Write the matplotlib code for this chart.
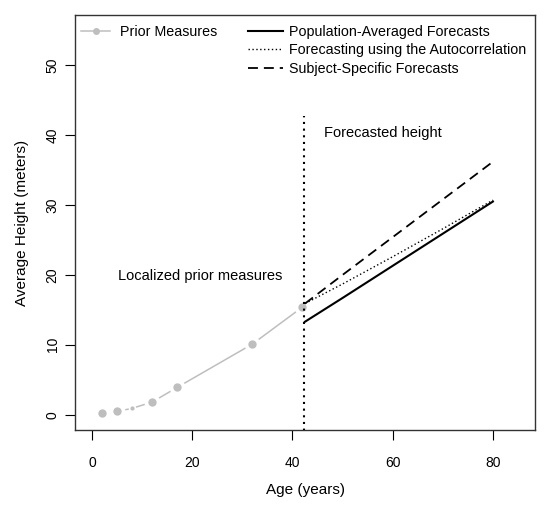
import matplotlib.pyplot as plt
from matplotlib.lines import Line2D

plt.rcParams['font.family'] = ['Liberation Sans', 'DejaVu Sans']

# prior measures (age, height)
prior_age = [2, 5, 8, 12, 17, 32, 42]
prior_height = [0.25, 0.45, 0.9, 1.8, 3.9, 10.1, 15.4]
prior_shown = [True, True, False, True, True, True, True]

# forecasts
fc_age = [42.5, 50, 60, 70, 80]
pop_avg = [13.3, 16.7, 21.3, 25.9, 30.5]
autocorr = [15.9, 18.7, 22.6, 26.6, 30.7]
subject = [15.9, 20.0, 25.4, 30.8, 36.2]

cut_age = 42.3
cut_top = 42.8

fig = plt.figure(figsize=(5.5, 5.09), dpi=100)
ax = fig.add_axes([75/550, 1 - 430/509, 460/550, 415/509])

gray = '#BEBEBE'
# gray line with gaps around the points (R type="b")
ax.plot(prior_age, prior_height, color=gray, lw=1.1, zorder=2)
big = [a for a, s in zip(prior_age, prior_shown) if s]
bigy = [h for h, s in zip(prior_height, prior_shown) if s]
small = [a for a, s in zip(prior_age, prior_shown) if not s]
smally = [h for h, s in zip(prior_height, prior_shown) if not s]
ax.plot(big, bigy, 'o', ms=11.5, color='white', mec='none', zorder=3)
ax.plot(small, smally, 'o', ms=5.5, color='white', mec='none', zorder=3)
ax.plot(big, bigy, 'o', ms=6, color=gray, mec='none', zorder=4)
ax.plot(small, smally, 'o', ms=3, color=gray, mec='none', zorder=4)

ax.plot(fc_age, pop_avg, color='black', lw=1.5, zorder=5)
ax.plot(fc_age, autocorr, color='black', lw=1.0, dashes=(1, 1.8), zorder=5)
ax.plot(fc_age, subject, color='black', lw=1.3, dashes=(5.5, 3.3), zorder=5)

ax.plot([cut_age, cut_age], [-10, cut_top], color='black', lw=1.5, dashes=(1, 2.2), zorder=5)

ax.text(21.5, 19.9, 'Localized prior measures', ha='center', va='center', fontsize=10.5)
ax.text(58.1, 40.3, 'Forecasted height', ha='center', va='center', fontsize=10.5)

ax.set_xlim(-3.4, 88.4)
ax.set_ylim(-2.2, 57.2)
ax.set_xticks([0, 20, 40, 60, 80])
ax.set_yticks([0, 10, 20, 30, 40, 50])
ax.tick_params(direction='out', length=7, width=0.8, labelsize=10)
ax.tick_params(axis='x', pad=12)
ax.tick_params(axis='y', pad=4)
for lab in ax.get_yticklabels():
    lab.set_rotation(90)
    lab.set_va('center')
for sp in ax.spines.values():
    sp.set_linewidth(1.0)
    sp.set_color('#333333')

ax.set_xlabel('Age (years)', fontsize=11, labelpad=9)
ax.set_ylabel('Average Height (meters)', fontsize=11, labelpad=12)

h1 = [Line2D([], [], color=gray, lw=1.1, marker='o', ms=5, mec='none')]
leg1 = ax.legend(h1, ['Prior Measures'], loc='upper left', bbox_to_anchor=(-0.008, 1.0),
                 frameon=False, fontsize=10.3, handlelength=2.0, borderaxespad=0.3,
                 handletextpad=0.7)
ax.add_artist(leg1)
h2 = [Line2D([], [], color='black', lw=1.5),
      Line2D([], [], color='black', lw=1.0, dashes=(1, 1.8)),
      Line2D([], [], color='black', lw=1.3, dashes=(5.5, 3.3))]
ax.legend(h2, ['Population-Averaged Forecasts', 'Forecasting using the Autocorrelation',
               'Subject-Specific Forecasts'],
          loc='upper left', bbox_to_anchor=(0.355, 1.0), frameon=False, fontsize=10.3,
          handlelength=2.4, borderaxespad=0.3, handletextpad=0.45, labelspacing=0.3)

fig.savefig('out.png', dpi=100)
